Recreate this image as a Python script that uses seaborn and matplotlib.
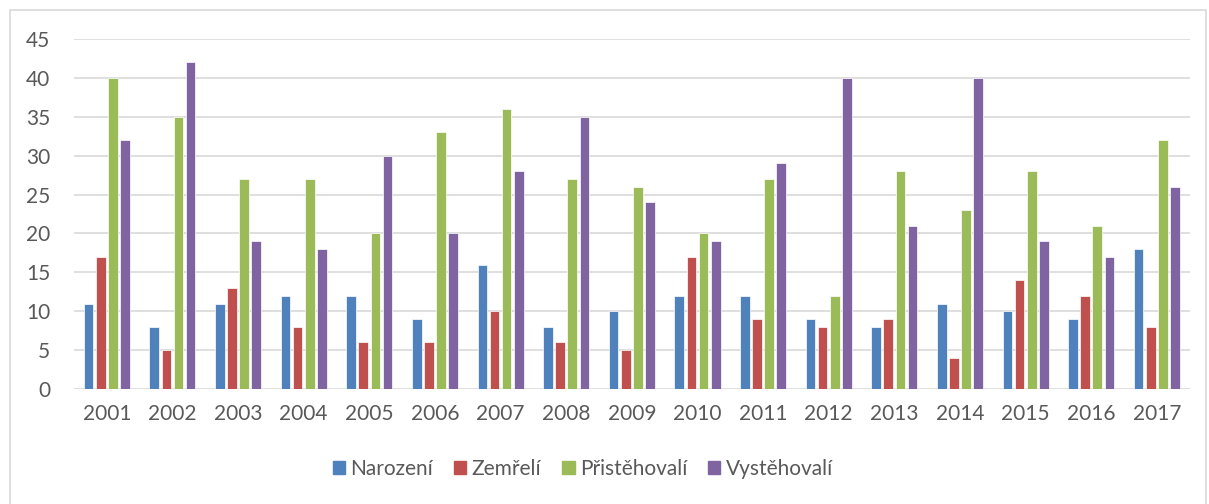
import matplotlib
matplotlib.use("Agg")
import matplotlib.pyplot as plt
import matplotlib.patches as mpatches
import pandas as pd
import seaborn as sns

years = [str(y) for y in range(2001, 2018)]
narozeni = [11, 8, 11, 12, 12, 9, 16, 8, 10, 12, 12, 9, 8, 11, 10, 9, 18]
zemreli = [17, 5, 13, 8, 6, 6, 10, 6, 5, 17, 9, 8, 9, 4, 14, 12, 8]
pristehovali = [40, 35, 27, 27, 20, 33, 36, 27, 26, 20, 27, 12, 28, 23, 28, 21, 32]
vystehovali = [32, 42, 19, 18, 30, 20, 28, 35, 24, 19, 29, 40, 21, 40, 19, 17, 26]
series = ["Narození", "Zemřelí", "Přistěhovalí", "Vystěhovalí"]
colors = ["#4F81BD", "#C0504D", "#9BBB59", "#8064A2"]

df = pd.DataFrame({"rok": years, series[0]: narozeni, series[1]: zemreli,
                   series[2]: pristehovali, series[3]: vystehovali})
df = df.melt(id_vars="rok", var_name="serie", value_name="pocet")

sns.set_style("white")
plt.rcParams["font.family"] = ["Lato", "DejaVu Sans"]
text_color = "#595959"

fig = plt.figure(figsize=(12.09, 5.04), dpi=100)
ax = fig.add_axes([0.0612, 0.228, 0.9228, 0.6946])

sns.barplot(data=df, x="rok", y="pocet", hue="serie", palette=colors,
            saturation=1, width=0.74, gap=0.2, edgecolor="white", linewidth=0.5,
            legend=False, ax=ax)

ax.set_ylim(0, 45)
ax.set_yticks(range(0, 50, 5))
ax.set_xlim(-0.5, len(years) - 0.5)
ax.set_xlabel("")
ax.set_ylabel("")
ax.yaxis.grid(True, color="#D9D9D9", linewidth=1.2)
ax.set_axisbelow(True)
for s in ax.spines.values():
    s.set_visible(False)
ax.tick_params(axis="both", length=0, labelsize=15, labelcolor=text_color)
ax.tick_params(axis="x", pad=11)
ax.tick_params(axis="y", pad=17)

handles = [mpatches.Patch(color=c, label=s) for c, s in zip(colors, series)]
fig.legend(handles=handles, loc="center", bbox_to_anchor=(0.482, 0.07), ncol=4,
           frameon=False, fontsize=15, handlelength=0.6, handleheight=0.6,
           handletextpad=0.25, columnspacing=1.0, labelcolor=text_color)

border = mpatches.Rectangle((10 / 1209, -0.01), 1196 / 1209, 1 - 10 / 504 + 0.01,
                            transform=fig.transFigure, fill=False,
                            edgecolor="#D9D9D9", linewidth=1.2)
fig.patches.append(border)

fig.savefig("out.png", dpi=100)
